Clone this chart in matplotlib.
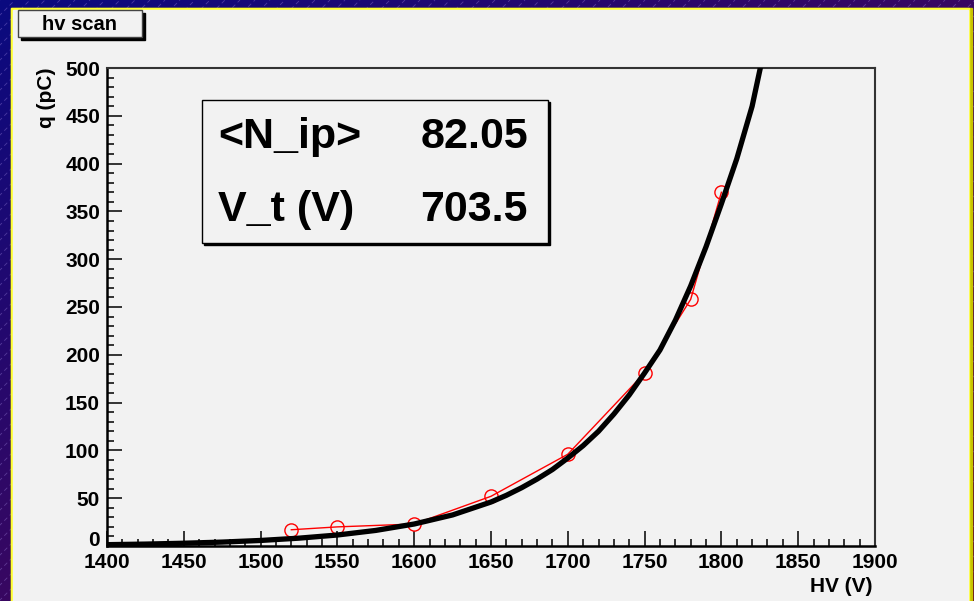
import matplotlib
matplotlib.use("Agg")
import matplotlib.pyplot as plt
from matplotlib.patches import Rectangle
from matplotlib.ticker import MultipleLocator, FuncFormatter
import numpy as np

plt.rcParams['font.family'] = ['Liberation Sans', 'DejaVu Sans']
plt.rcParams['font.weight'] = 'bold'

# measured points (HV in V, charge in pC)
hv = [1520, 1550, 1600, 1650, 1700, 1750, 1780, 1800]
q = [17, 20, 23, 52, 96, 181, 258, 370]

# fit curve
hv_fit = [1400, 1425, 1450, 1475, 1500, 1525, 1550, 1575, 1600, 1625, 1650,
          1660, 1670, 1680, 1690, 1700, 1710, 1720, 1730, 1740, 1750, 1760,
          1770, 1780, 1790, 1800, 1810, 1820, 1826]
q_fit = [1.4, 2.0, 2.9, 4.1, 5.8, 8.2, 11.5, 16.3, 23, 32.5, 46,
         53, 61, 70, 80, 92, 105, 120, 138, 158, 181, 205,
         236, 272, 313, 358, 405, 460, 505]

stats_names = ["<N_ip>", "V_t (V)"]
stats_values = ["82.05", "703.5"]

W, H = 974, 601
fig = plt.figure(figsize=(W / 100, H / 100), dpi=100)

# background: gradient with faint diagonal hatching
bg = fig.add_axes([0, 0, 1, 1])
bg.set_xlim(0, W)
bg.set_ylim(H, 0)
bg.axis("off")
yy, xx = np.mgrid[0:H, 0:W]
t = (xx / W + yy / H) / 2
c0 = np.array([0.04, 0.04, 0.50])
c1 = np.array([0.22, 0.03, 0.38])
c2 = np.array([0.36, 0.00, 0.14])
t3 = t[..., None]
img = np.where(t3 < 0.5, c0 + (c1 - c0) * (t3 / 0.5), c1 + (c2 - c1) * ((t3 - 0.5) / 0.5))
bg.imshow(img, extent=[0, W, H, 0], aspect="auto", zorder=0)
for x0 in range(-H, W + 20, 15):
    bg.plot([x0, x0 + H], [H, 0], color=(0.7, 0.6, 0.95), lw=0.6, alpha=0.35,
            dashes=(5, 4), zorder=1)

# canvas with yellow border
bg.add_patch(Rectangle((11, 8), 961, 610, color="#c8c400", zorder=2))
bg.add_patch(Rectangle((11, 8), 958, 610, color="#ffff30", zorder=3))
bg.add_patch(Rectangle((13, 10), 955, 610, color="#f2f2f2", zorder=4))

# main plot
ax = fig.add_axes([107 / W, (H - 546) / H, (875 - 107) / W, (546 - 68) / H])
ax.set_facecolor("#f2f2f2")
ax.plot(hv, q, color="red", lw=1, marker="o", ms=9.5, mfc="none", mec="red",
        mew=1, zorder=2)
ax.plot(hv_fit, q_fit, color="black", lw=3.8, zorder=3, solid_joinstyle="round")
ax.set_xlim(1400, 1900)
ax.set_ylim(0, 500)
ax.xaxis.set_major_locator(MultipleLocator(50))
ax.xaxis.set_minor_locator(MultipleLocator(10))
ax.yaxis.set_major_locator(MultipleLocator(50))
ax.yaxis.set_minor_locator(MultipleLocator(10))
# the "0" is drawn separately, a bit higher, so it clears "1400"
ax.yaxis.set_major_formatter(FuncFormatter(lambda v, p: "" if v == 0 else "%d" % v))
ax.tick_params(which="both", direction="in", top=False, right=False,
               labelsize=15, pad=5)
ax.tick_params(which="major", length=11, width=1.1)
ax.tick_params(which="minor", length=5, width=1.1)
for s in ["left", "bottom"]:
    ax.spines[s].set_linewidth(1.8)
for s in ["top", "right"]:
    ax.spines[s].set_linewidth(1.5)
    ax.spines[s].set_color("#333333")
for lab in ax.get_xticklabels() + ax.get_yticklabels():
    lab.set_fontweight("bold")

# overlay for labels and boxes
ov = fig.add_axes([0, 0, 1, 1])
ov.set_xlim(0, W)
ov.set_ylim(H, 0)
ov.axis("off")
ov.patch.set_alpha(0)

ov.text(100, 541, "0", fontsize=15, fontweight="bold", ha="right", va="center")
ov.text(873, 586, "HV (V)", fontsize=15, fontweight="bold", ha="right", va="center")
ov.text(47, 68, "q (pC)", fontsize=15, fontweight="bold", rotation=90,
        ha="center", va="top")

# title box
ov.add_patch(Rectangle((21, 13), 124, 27, color="black", zorder=1))
ov.add_patch(Rectangle((18, 10), 124, 27, facecolor="#f2f2f2", edgecolor="#444444",
                       lw=1, zorder=2))
ov.text(80, 24, "hv scan", fontsize=14.5, fontweight="bold", ha="center",
        va="center", zorder=3)

# stats box
ov.add_patch(Rectangle((204, 102), 346, 143, color="black", zorder=1))
ov.add_patch(Rectangle((202, 100), 346, 143, facecolor="#f2f2f2", edgecolor="black",
                       lw=1, zorder=2))
for i in range(len(stats_names)):
    yb = 148 + i * 73
    ov.text(218, yb, stats_names[i], fontsize=31, fontweight="bold",
            ha="left", va="baseline", zorder=3)
    ov.text(528, yb, stats_values[i], fontsize=31, fontweight="bold",
            ha="right", va="baseline", zorder=3)

fig.savefig("out.png", dpi=100)
